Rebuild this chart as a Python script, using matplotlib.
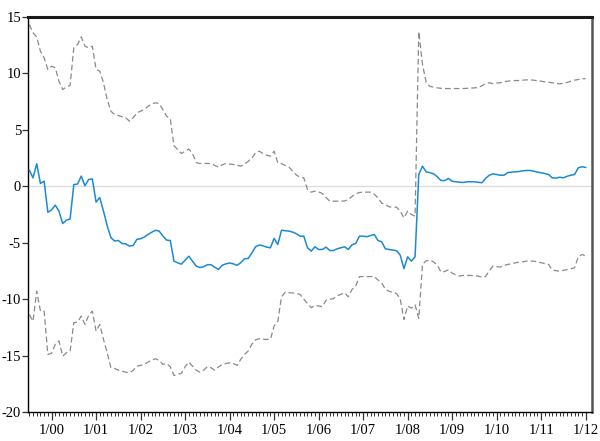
import numpy as np
import pandas as pd
import matplotlib
matplotlib.use("Agg")
import matplotlib.pyplot as plt
from matplotlib.ticker import FixedLocator, NullFormatter

# Monthly observations, 1999M07 .. 2012M01
start_month = "1999-07"

estimate = [
    1.43, 0.75, 2.0, 0.25, 0.45, -2.3, -2.1, -1.67, -2.2, -3.3, -3.0, -2.9,
    0.15, 0.2, 0.9, 0.05, 0.6, 0.65, -1.4, -1.0, -2.2, -3.5, -4.55, -4.85,
    -4.8, -5.07, -5.1, -5.3, -5.25, -4.7, -4.65, -4.5, -4.27, -4.07, -3.9, -3.97,
    -4.4, -4.77, -4.8, -6.63, -6.78, -6.9, -6.55, -6.2, -6.63, -7.07, -7.2,
    -7.13, -6.95, -6.95, -7.17, -7.37, -7.0, -6.87, -6.8, -6.87, -7.0, -6.78,
    -6.42, -6.4, -5.9, -5.36, -5.2, -5.27, -5.39, -5.45, -4.62, -5.15, -3.89,
    -3.94, -3.97, -4.06, -4.2, -4.42, -4.42, -5.45, -5.75, -5.36, -5.6, -5.6,
    -5.39, -5.69, -5.69, -5.54, -5.45, -5.36, -5.6, -5.18, -5.07, -4.42, -4.42,
    -4.47, -4.36, -4.27, -4.8, -4.92, -5.54, -5.6, -5.66, -5.7, -6.1,
    -7.3, -6.25, -6.63, -6.25, 1.05, 1.78,
    1.28, 1.2, 1.1, 0.84, 0.51, 0.51, 0.69, 0.45, 0.4, 0.36, 0.34, 0.4, 0.4,
    0.4, 0.36, 0.31, 0.69, 0.98, 1.1, 1.04, 0.98, 0.98, 1.22, 1.25, 1.28, 1.31,
    1.37, 1.4, 1.4, 1.34, 1.25, 1.2, 1.13, 1.04, 0.75, 0.72, 0.8, 0.75, 0.89,
    0.98, 1.04, 1.64, 1.73, 1.67,
]

upper_band = [
    14.33, 13.6, 13.24, 11.97, 11.38, 10.35, 10.64, 10.5, 9.31, 8.57, 8.81, 8.93,
    12.27, 12.56, 13.24, 12.41, 12.27, 12.41, 10.35, 10.2, 9.17, 7.69, 6.65, 6.36,
    6.27, 6.16, 6.07, 5.77, 6.07, 6.51, 6.65, 6.8, 7.09, 7.31, 7.4, 7.33, 6.8,
    6.21, 6.0, 3.6, 3.26,
    2.9, 3.1, 3.3, 2.9, 2.1, 2.02,
    2.02, 2.02, 2.02, 1.85, 1.7, 1.9, 2.02, 1.97, 1.93, 1.85, 1.78, 1.95, 2.2,
    2.5, 2.96, 3.11, 2.9, 2.75, 2.67, 3.11, 2.08, 2.0, 1.85, 1.7, 1.34, 1.0, 0.8,
    0.75, -0.28, -0.52, -0.43, -0.5, -0.64, -1.0, -1.32, -1.32, -1.32, -1.32,
    -1.3, -1.17, -0.9, -0.67, -0.55, -0.52, -0.52, -0.52, -0.7, -1.02, -1.5,
    -1.61, -1.82, -1.85, -1.85,
    -2.2, -2.8, -2.2, -2.5, -2.65,
    13.7, 10.8, 9.2, 8.85, 8.78, 8.72, 8.68, 8.66, 8.66, 8.66, 8.66, 8.66, 8.66,
    8.68, 8.7, 8.72, 8.75, 8.9, 9.1, 9.17, 9.1, 9.15, 9.17, 9.28, 9.31, 9.35,
    9.37, 9.37, 9.4, 9.43, 9.43, 9.4, 9.35, 9.31, 9.25, 9.22, 9.17, 9.12, 9.08,
    9.12, 9.2, 9.31, 9.4, 9.46, 9.55, 9.52,
]

lower_band = [
    -11.36, -11.95, -9.29, -11.06, -11.06, -14.9, -14.8, -14.0, -13.7, -15.05,
    -14.75, -14.6, -12.09, -12.04, -11.5, -12.24, -11.44, -11.06, -12.83, -12.24,
    -13.57, -14.75, -16.08, -16.14, -16.29, -16.38, -16.47, -16.52, -16.32,
    -15.93, -15.87, -15.78, -15.58, -15.4, -15.28, -15.43, -15.78, -15.7, -15.99,
    -16.76, -16.67, -16.58, -15.99, -15.58, -15.93, -16.29,
    -16.47, -16.29, -15.99, -16.08, -16.3, -16.0, -15.8, -15.7, -15.65, -15.7,
    -15.87, -15.34, -14.9, -14.6, -14.01, -13.6, -13.5, -13.55, -13.57, -13.57,
    -12.39, -11.95, -9.79,
    -9.38, -9.43, -9.45, -9.5, -9.58, -10.0, -10.4, -10.76, -10.56, -10.6,
    -10.67, -10.09, -10.0, -9.96, -9.7, -9.58, -9.43, -9.79, -9.14, -8.85, -8.0,
    -8.0, -8.0, -8.0, -8.0, -8.3, -8.55, -9.14, -9.3, -9.4, -9.5, -10.0, -11.8,
    -10.6, -10.8, -10.5, -11.7,
    -6.9, -6.6, -6.54, -6.7, -7.0, -7.6, -7.55, -7.4, -7.7, -7.85, -7.95, -7.9,
    -7.9, -7.9, -7.93, -7.96, -8.05, -8.0, -7.5, -7.07, -7.12, -7.16, -7.0,
    -6.93, -6.85, -6.78, -6.72, -6.7, -6.63, -6.63, -6.63, -6.7, -6.78, -6.85,
    -6.93, -7.43, -7.48, -7.52, -7.45, -7.37, -7.31, -7.22, -6.25, -6.04, -6.19,
]

y_ticks = [-20, -15, -10, -5, 0, 5, 10, 15]

months = pd.period_range(start_month, periods=len(estimate), freq="M")
x = np.arange(len(months))
jan_pos = [i for i, m in enumerate(months) if m.month == 1]
jan_labels = [f"1/{months[i].year % 100:02d}" for i in jan_pos]

plt.rcParams["font.family"] = ["Liberation Serif", "DejaVu Serif"]
plt.rcParams["axes.unicode_minus"] = False

fig = plt.figure(figsize=(6.0, 4.41), dpi=100)
ax = fig.add_axes([28 / 600, 1 - 412 / 441, (592 - 28) / 600, (412 - 17) / 441])

ax.axhline(0, color="#dddddd", lw=1.0, zorder=1)
ax.plot(x, upper_band, color="#8a8a8a", lw=0.9, dashes=(4.5, 2.5), zorder=2)
ax.plot(x, lower_band, color="#8a8a8a", lw=0.9, dashes=(4.5, 2.5), zorder=2)
ax.plot(x, estimate, color="#1a8ad4", lw=1.1, zorder=3)

ax.set_xlim(-0.35, len(x) - 1 + 1.7)
ax.set_ylim(-20, 15)

ax.set_yticks(y_ticks)
ax.set_yticklabels([str(v) for v in y_ticks])
ax.tick_params(axis="y", direction="out", length=4, width=0.9, labelsize=10.5,
               pad=1, color="#333333")

ax.xaxis.set_major_locator(FixedLocator(jan_pos))
ax.set_xticklabels(jan_labels)
ax.xaxis.set_minor_locator(FixedLocator(list(x)))
ax.xaxis.set_minor_formatter(NullFormatter())
ax.tick_params(axis="x", which="major", direction="out", length=6, width=0.9,
               labelsize=10.5, pad=3, color="#333333")
ax.tick_params(axis="x", which="minor", direction="out", length=3, width=0.7,
               color="#333333")

ax.spines["left"].set_linewidth(1.0)
ax.spines["bottom"].set_linewidth(1.0)
ax.spines["top"].set_linewidth(2.2)
ax.spines["top"].set_color("#1a1a1a")
ax.spines["right"].set_linewidth(1.8)
ax.spines["right"].set_color("#555555")

fig.savefig("out.png", dpi=100)
